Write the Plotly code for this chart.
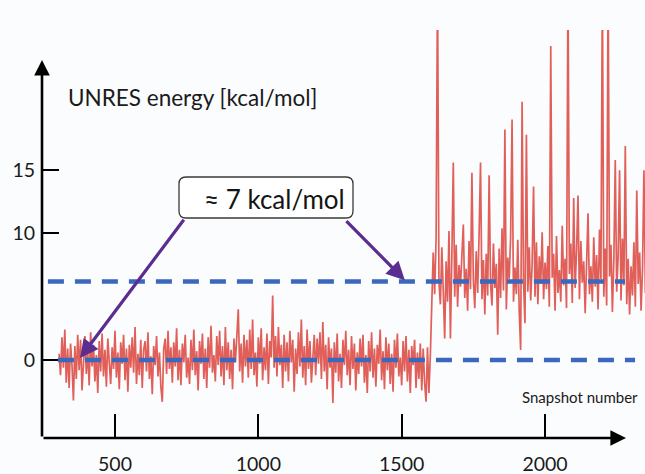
import plotly.graph_objects as go

# ---------------- data ----------------
# UNRES energy [kcal/mol], sampled every 5 snapshots
before_start = 305
after_start = 1605
snapshot_step = 5

energy_before = [
    0.5, -1.2, 1.8, -0.6, 2.4, -1.8, 0.9, -2.2, 1.3, -0.4,
    -3.2, 1.1, -1.5, 2.0, -0.8, 1.6, -2.4, 0.3, 1.9, -1.1,
    0.7, -2.0, 2.2, -0.5, 1.2, -1.7, 0.4, -2.6, 1.5, -0.9,
    2.1, -1.3, 0.8, -2.1, 1.7, -0.2, -1.9, 1.0, -0.7, 2.3,
    -1.4, 0.6, -2.3, 1.4, -0.3, 2.0, -1.6, 0.9, -2.5, 1.2,
    -0.6, 1.8, -1.0, 2.6, -1.9, 0.5, -1.2, 1.6, -2.2, 0.8,
    1.5, -0.9, 2.2, -1.5, 0.3, -2.7, 1.1, -0.4, 1.9, -1.3,
    0.6, -2.1, -3.3, 0.9, 1.7, -1.1, 2.3, -0.7, 1.0, -1.8,
    1.4, -0.5, 2.5, -1.6, 0.8, -2.0, 1.3, -0.2, 2.0, -1.4,
    0.2, -1.9, 1.6, -0.8, 2.4, -1.2, 0.7, -2.4, 1.5, -0.3,
    2.1, -1.5, 0.9, -2.2, 1.8, -0.6, 2.7, -1.0, 0.4, -1.7,
    1.9, -0.4, 2.3, -1.3, 1.1, -2.0, 2.6, -0.8, 1.4, -1.5,
    0.8, -2.3, 1.7, -0.2, 2.2, 4.0, -0.9, 1.3, -1.8, 2.0,
    -0.5, 1.6, -1.4, 2.4, -0.7, 3.2, -1.2, 0.6, -2.1, 1.8,
    -0.3, 2.5, -1.6, 1.0, -0.8, 2.1, -1.9, 1.5, 0.2, 5.1,
    -0.6, 1.9, -1.3, 2.6, -0.4, 1.2, -2.2, 2.0, -0.9, 1.4,
    -1.7, 2.3, -0.2, 1.6, -2.5, 0.9, -1.1, 2.2, -0.5, 3.2,
    -1.4, 1.1, -2.0, 2.4, -0.7, 1.5, -1.8, 0.6, 2.0, -1.2,
    1.7, -0.3, 2.2, -1.5, 3.0, -0.9, 1.2, -2.3, 1.8, -0.6,
    0.9, -3.4, 1.4, -1.0, 2.1, -1.7, 0.5, -2.2, 1.6, -0.4,
    2.3, -1.2, 0.8, -2.0, 1.9, -0.7, 1.3, -2.4, 0.6, -1.1,
    1.7, -0.5, 2.0, -1.8, 0.4, -2.6, 1.5, -0.9, 2.2, -1.4,
    0.9, -2.1, 1.2, -0.3, 2.4, -1.6, 0.7, -2.3, 1.8, -0.8,
    1.3, -1.9, 0.5, -2.5, 1.6, -0.6, 2.1, -1.3, 0.2, -2.0,
    1.5, -0.9, 1.9, -1.7, 0.8, -2.6, 1.1, -0.4, 1.6, -2.2,
    0.6, -1.5, 1.3, -2.4, 0.9, -1.8, -3.3, 1.0, -2.6, 0.4,
]

energy_after = [
    3.8, 8.5, 5.2, 9.6, 30.0, 6.1, 4.4, 8.9, 5.5, 1.7,
    7.8, 4.6, 10.2, 1.7, 8.3, 15.6, 5.0, 9.1, 4.2, 7.5,
    5.8, 8.8, 10.7, 4.9, 7.2, 3.9, 9.4, 5.6, 14.8, 6.3,
    4.1, 8.6, 5.3, 9.9, 15.6, 4.8, 7.9, 3.6, 8.4, 5.1,
    14.6, 6.0, 4.3, 9.2, 5.7, 7.6, 2.0, 8.8, 4.9, 10.4,
    5.5, 18.2, 4.0, 8.1, 6.4, 9.7, 19.0, 4.6, 7.3, 5.2,
    9.5, 3.8, 0.8, 20.4, 6.2, 2.9, 17.8, 5.4, 8.9, 4.7,
    7.6, 13.7, 5.0, 9.3, 4.4, 8.2, 6.0, 10.1, 4.8, 7.7,
    5.6, 9.0, 4.2, 24.8, 6.5, 8.4, 3.9, 9.8, 5.3, 7.1,
    4.6, 10.6, 5.9, 8.0, 4.1, 30.0, 6.8, 9.2, 4.5, 12.8,
    5.7, 8.6, 13.0, 4.8, 9.4, 6.1, 7.8, 3.7, 8.9, 11.6,
    5.2, 7.4, 4.6, 9.7, 5.8, 8.3, 4.0, 10.3, 6.4, 30.0,
    5.0, 8.8, 4.3, 30.0, 6.6, 9.1, 3.8, 7.9, 15.8, 5.4,
    8.2, 15.0, 4.7, 9.6, 5.9, 16.9, 4.4, 8.0, 3.6, 7.4,
    5.1, 9.3, 4.2, 13.4, 6.0, 8.5, 3.9, 7.2, 15.0, 5.3,
]

reference_levels = [0.0, 6.2]          # mean energy before / after
x_ticks = [500, 1000, 1500, 2000]
y_ticks = [0, 10, 15]
delta_label = "≈ 7 kcal/mol"
y_title = "UNRES energy [kcal/mol]"
x_title = "Snapshot number"

snapshots = [before_start + snapshot_step * i for i in range(len(energy_before))] + \
            [after_start + snapshot_step * i for i in range(len(energy_after))]
energy = energy_before + energy_after

# ---------------- figure ----------------
W, H = 645, 474
ML, MR, MT, MB = 42, 0, 30, 36
PW, PH = W - ML - MR, H - MT - MB
FONT = "Lato, Carlito, 'Liberation Sans', sans-serif"


def px(xp):
    return (xp - ML) / PW


def py(yp):
    return (H - MB - yp) / PH


fig = go.Figure()
fig.add_trace(go.Scatter(
    x=snapshots, y=energy, mode="lines",
    line=dict(color="rgba(218,55,48,0.8)", width=1.7),
    hoverinfo="skip", showlegend=False,
))

# dashed reference levels
fig.add_shape(type="line", xref="x", yref="y", x0=301, x1=2314,
              y0=reference_levels[0], y1=reference_levels[0],
              line=dict(color="#3b67bd", width=4.5, dash="16px,11px"))
fig.add_shape(type="line", xref="x", yref="y", x0=266, x1=2279,
              y0=reference_levels[1], y1=reference_levels[1],
              line=dict(color="#3b67bd", width=4.5, dash="16px,11px"))

# rounded label box
l, r, t, b = px(179), px(353), py(177), py(218)
rx, ry = 7 / PW, 7 / PH
path = (f"M {l+rx},{t} L {r-rx},{t} Q {r},{t} {r},{t-ry} L {r},{b+ry} "
        f"Q {r},{b} {r-rx},{b} L {l+rx},{b} Q {l},{b} {l},{b+ry} "
        f"L {l},{t-ry} Q {l},{t} {l+rx},{t} Z")
fig.add_shape(type="path", xref="paper", yref="paper", path=path,
              fillcolor="white", line=dict(color="#3a3a3a", width=1.3))

anns = []
# axes arrows
anns.append(dict(xref="paper", yref="paper", x=0, y=py(60), ax=0, ay=378,
                 showarrow=True, arrowhead=2, arrowsize=1.2, arrowwidth=2.6,
                 arrowcolor="black", text=""))
anns.append(dict(xref="paper", yref="paper", x=px(626), y=0, ax=-584, ay=0,
                 showarrow=True, arrowhead=2, arrowsize=1.2, arrowwidth=2.6,
                 arrowcolor="black", text=""))
# purple arrows
anns.append(dict(xref="x", yref="y", axref="x", ayref="y",
                 x=378, y=0.15, ax=744, ay=11.2, text="", showarrow=True,
                 arrowhead=2, arrowsize=1.15, arrowwidth=3.2, arrowcolor="#5a2d8e"))
anns.append(dict(xref="x", yref="y", axref="x", ayref="y",
                 x=1511, y=6.3, ax=1302, ay=11.1, text="", showarrow=True,
                 arrowhead=2, arrowsize=1.15, arrowwidth=3.2, arrowcolor="#5a2d8e"))
# texts
anns.append(dict(xref="paper", yref="paper", x=px(274), y=py(199),
                 text=delta_label, showarrow=False,
                 font=dict(family=FONT, size=26, color="#141414"),
                 xanchor="center", yanchor="middle"))
anns.append(dict(xref="paper", yref="paper", x=px(66), y=py(98),
                 text=y_title, showarrow=False,
                 font=dict(family=FONT, size=22.5, color="#1a1a1a"),
                 xanchor="left", yanchor="middle"))
anns.append(dict(xref="paper", yref="paper", x=px(520), y=py(397),
                 text=x_title, showarrow=False,
                 font=dict(family=FONT, size=15, color="#1a1a1a"),
                 xanchor="left", yanchor="middle"))

fig.update_layout(
    width=W, height=H,
    margin=dict(l=ML, r=MR, t=MT, b=MB, pad=0),
    paper_bgcolor="#fbfcfd", plot_bgcolor="rgba(0,0,0,0)",
    annotations=anns,
    xaxis=dict(range=[245.4, 2348.7], showgrid=False, zeroline=False,
               showline=False, tickmode="array", tickvals=x_ticks,
               ticks="inside", ticklen=24, tickwidth=2, tickcolor="black",
               ticklabelstandoff=12,
               tickfont=dict(family=FONT, size=19.5, color="#1a1a1a")),
    yaxis=dict(range=[-6.16, 26.07], showgrid=False, zeroline=False,
               showline=False, tickmode="array", tickvals=y_ticks,
               ticks="inside", ticklen=17, tickwidth=2, tickcolor="black",
               ticklabelstandoff=6,
               tickfont=dict(family=FONT, size=19.5, color="#1a1a1a")),
)

fig.write_html("out.html")
